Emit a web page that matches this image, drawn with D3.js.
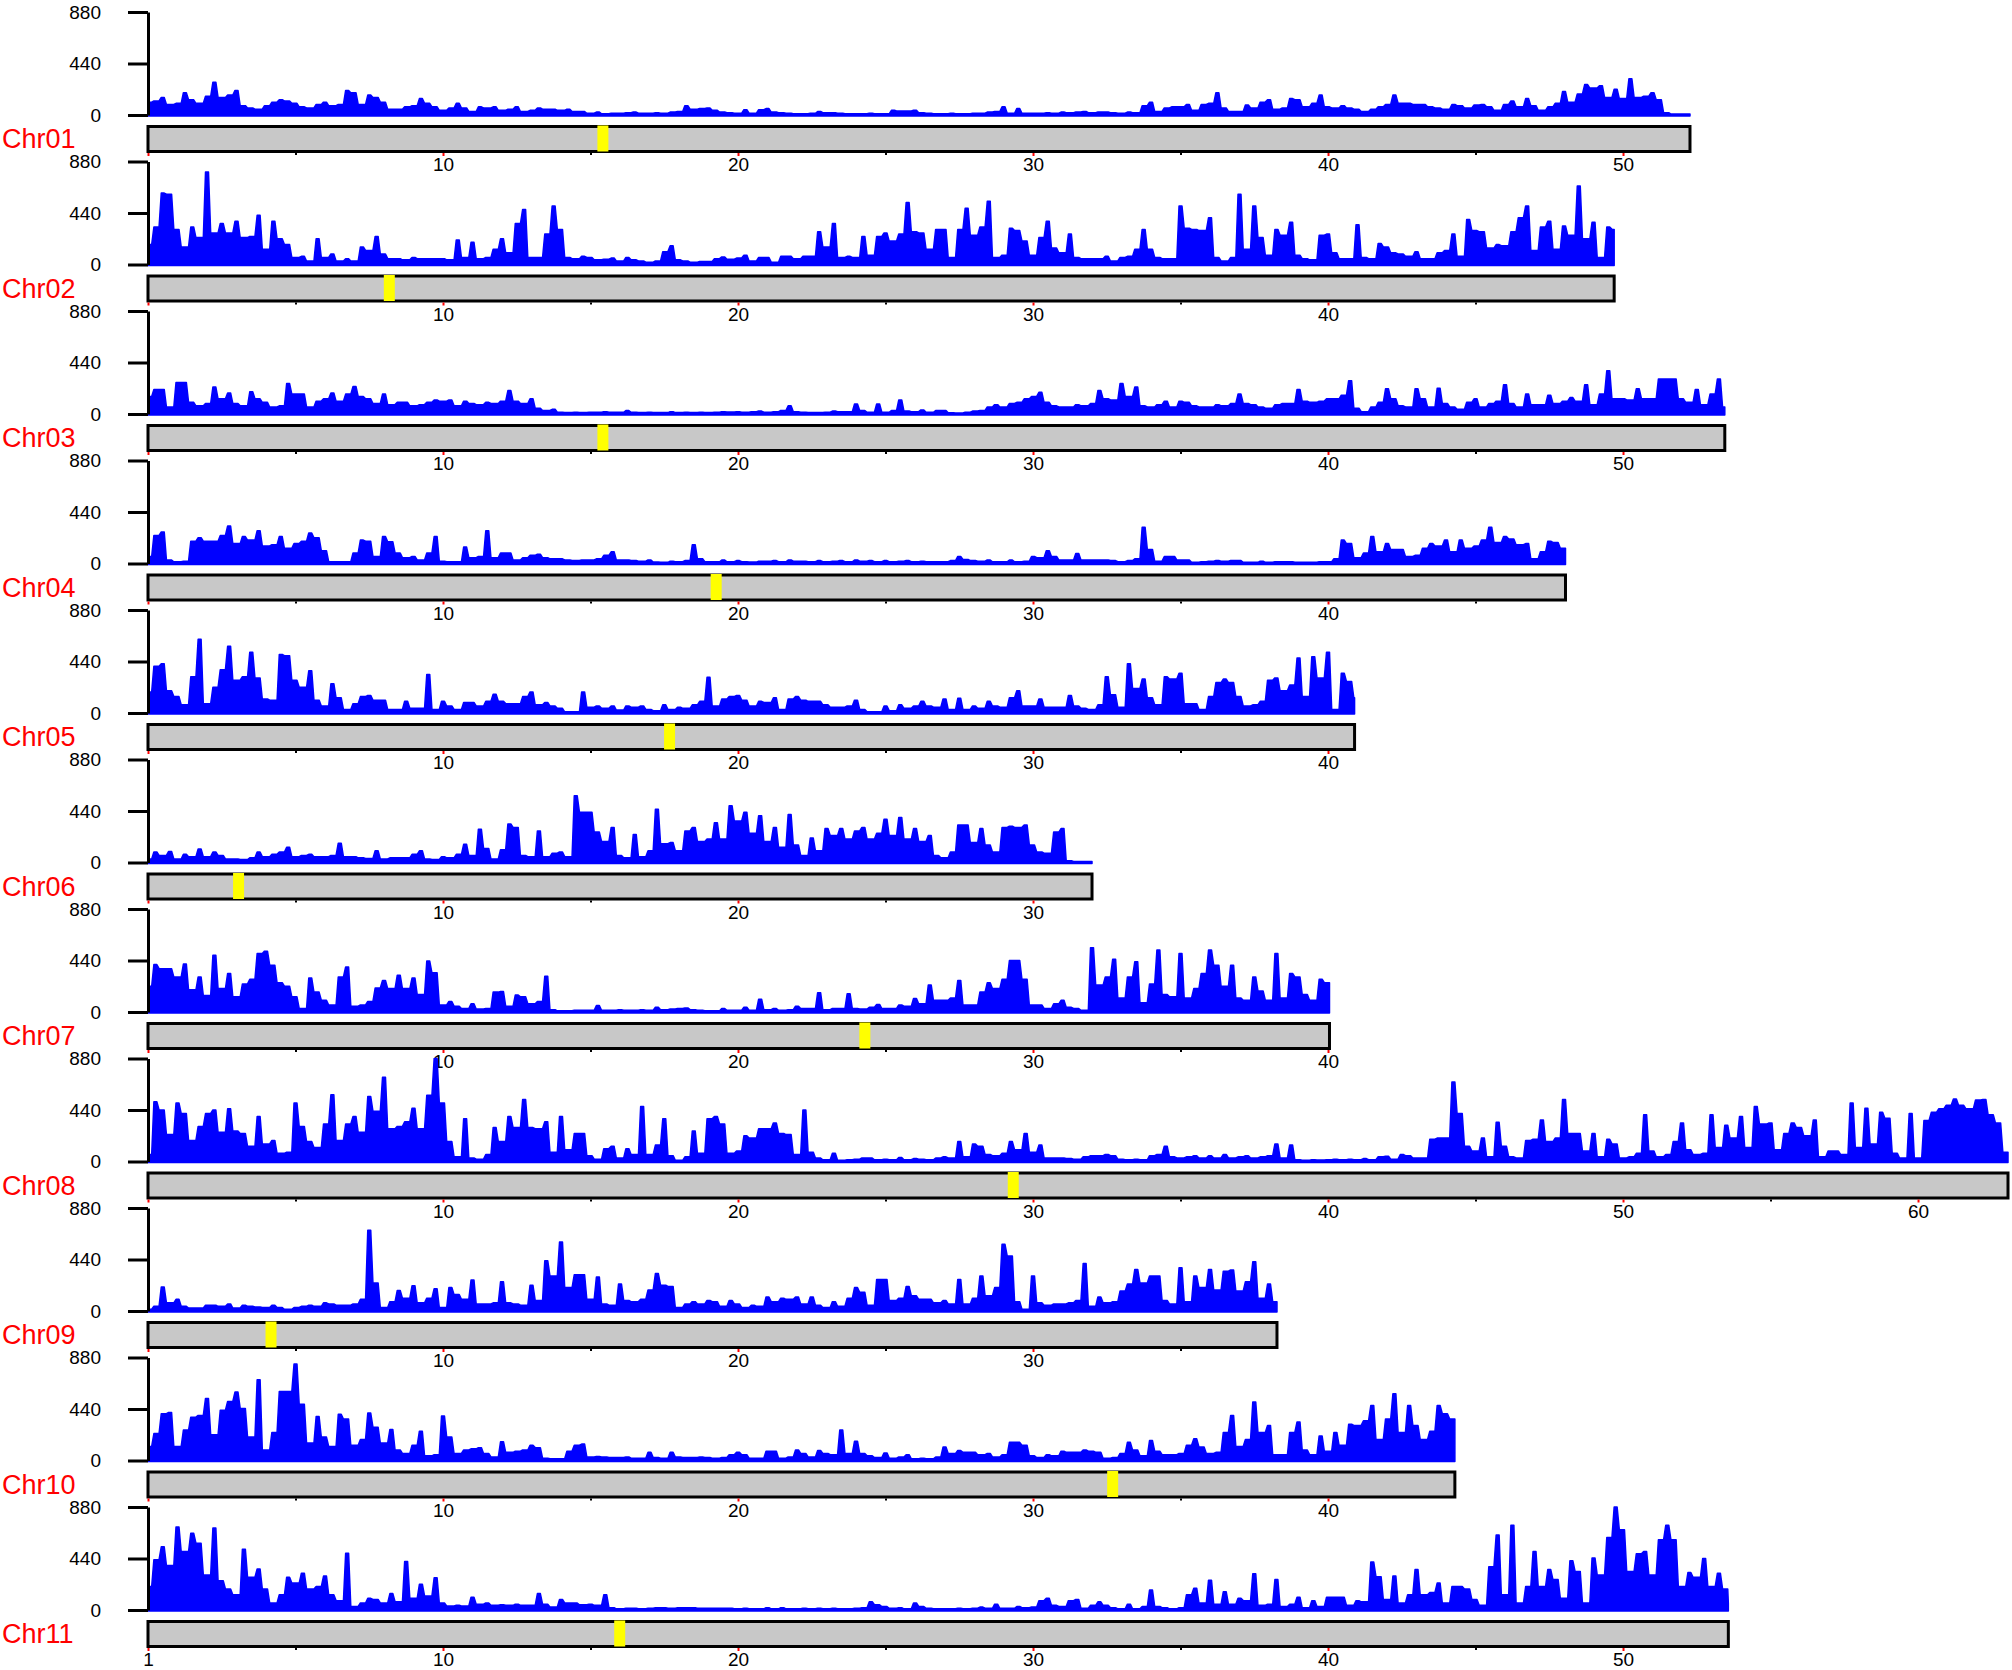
<!DOCTYPE html>
<html>
<head>
<meta charset="utf-8">
<script src="https://cdn.jsdelivr.net/npm/d3@7"></script>
<style>
  body { margin: 0; background: #fff; }
  text { font-family: "Liberation Sans", sans-serif; }
</style>
</head>
<body>
<script>
// Read density per 0.25 Mb bin, one line = 5 Mb
const chr01 = [
  110,120,150,90,100,190,130,100,160,280,150,170,210,80,60,50,80,110,130,120,
  100,70,60,90,110,80,90,210,190,90,170,150,110,50,50,70,80,140,100,70,
  40,60,100,60,30,70,60,70,40,50,70,30,40,60,50,50,40,50,30,30,
  15,25,10,15,15,20,25,15,15,20,15,25,30,80,50,55,60,40,25,20,
  15,45,15,45,55,25,20,15,10,10,15,30,20,20,15,10,10,10,15,10,
  10,40,35,35,40,20,15,10,10,15,10,10,15,15,25,30,70,15,55,15,
  15,15,20,15,25,20,25,30,20,25,25,20,15,25,20,80,110,30,60,70,
  70,90,40,90,100,190,60,30,30,85,60,110,130,50,60,140,130,70,100,170,
  70,60,80,60,50,30,50,70,90,170,100,100,90,90,70,60,50,90,80,60,
  85,90,70,40,90,120,70,140,80,40,70,100,200,110,180,260,230,250,150,220,
  140,310,150,160,190,130,20,8,8,8];
const chr02 = [
  170,320,610,600,300,150,320,230,790,270,350,270,370,230,240,420,130,370,220,170,
  60,70,30,220,60,90,30,50,30,150,120,240,90,50,50,40,60,50,50,50,
  50,40,210,60,190,50,60,130,220,100,350,470,60,60,260,500,300,60,50,70,
  60,40,45,55,30,60,40,30,20,30,110,160,40,30,20,25,25,50,65,45,
  55,80,30,60,60,20,70,70,50,70,70,280,150,350,60,70,60,240,80,240,
  270,200,260,530,280,270,130,300,300,60,300,480,250,320,540,60,80,310,290,200,
  80,230,370,140,100,260,60,50,50,50,70,30,60,70,130,300,130,60,50,50,
  500,310,300,290,400,60,30,60,600,130,500,230,80,300,250,360,80,50,40,250,
  260,100,50,50,340,60,50,180,150,100,90,70,110,50,50,100,120,260,70,385,
  290,280,140,170,160,280,400,500,120,320,370,130,330,250,670,220,360,60,320,300];
const chr03 = [
  150,210,210,60,270,270,100,70,90,230,130,180,90,70,190,130,100,60,70,260,
  170,170,60,110,130,180,110,170,235,150,130,90,170,80,100,100,70,80,100,120,
  110,120,70,110,90,80,100,90,110,200,110,90,130,50,30,40,15,12,15,12,
  15,15,20,15,15,30,15,12,15,12,12,20,12,15,12,15,12,15,20,18,
  20,15,20,25,15,20,30,70,20,15,12,12,15,25,20,20,85,30,15,85,
  15,30,120,25,20,35,15,30,30,10,8,15,25,30,60,80,60,90,100,130,
  150,185,100,70,60,60,80,70,90,200,130,120,260,150,230,70,60,80,110,60,
  110,100,70,60,60,80,70,90,170,90,80,60,50,80,90,90,210,110,100,110,
  130,130,160,285,50,20,60,100,215,130,70,60,215,130,60,220,90,60,40,100,
  130,60,90,110,250,90,60,170,80,80,160,90,110,140,110,250,80,170,370,130,
  130,120,215,130,130,300,300,300,130,100,210,80,170,300,60];
const chr04 = [
  60,240,270,30,15,20,190,220,190,190,240,320,170,230,200,280,150,160,230,130,
  170,190,260,220,110,15,15,15,90,200,190,60,230,185,90,50,60,30,90,230,
  20,15,15,140,50,60,280,50,90,90,30,50,70,80,50,40,40,30,25,30,
  30,40,70,100,30,30,25,20,30,12,10,20,15,25,160,40,15,15,30,15,
  25,15,12,20,20,25,15,30,20,20,15,25,15,20,25,15,30,20,25,15,
  25,15,20,25,15,20,15,15,15,25,60,35,25,20,30,15,15,30,15,20,
  60,50,110,60,30,30,85,30,30,30,30,25,15,25,40,310,120,20,60,60,
  30,30,10,15,20,25,20,25,25,10,10,20,10,15,15,15,10,10,10,15,
  15,40,200,170,50,90,230,100,170,120,120,60,70,130,170,150,200,100,200,130,
  150,200,310,180,230,210,160,170,40,100,190,180,130];
const chr05 = [
  180,400,420,190,140,70,310,630,80,220,370,570,280,310,520,300,120,110,500,490,
  280,220,360,110,60,250,130,30,80,140,150,110,110,30,30,100,40,40,330,30,
  100,60,30,90,90,60,100,160,100,80,80,140,180,70,90,60,40,10,10,180,
  50,60,40,60,25,60,50,60,30,20,70,30,50,40,70,100,305,60,120,140,
  150,110,60,100,90,130,30,120,140,110,100,100,70,50,50,60,110,30,10,10,
  60,20,70,40,60,100,60,50,120,30,125,30,60,40,100,60,50,130,190,60,
  60,120,50,50,50,150,60,40,30,70,310,155,50,420,210,290,130,70,310,290,
  340,80,80,30,140,260,290,260,140,60,70,100,280,300,190,240,470,140,480,300,
  520,30,340,270,130];
const chr06 = [
  30,90,60,95,30,70,50,115,50,90,60,30,30,25,40,90,50,70,90,130,
  50,60,70,50,50,60,165,50,50,40,35,100,30,40,40,40,70,100,30,25,
  50,40,70,155,60,285,120,30,110,330,300,60,50,270,50,80,90,50,570,430,
  430,260,180,300,60,40,240,50,100,455,160,170,100,270,300,180,200,340,200,485,
  355,430,250,400,180,300,130,410,150,60,210,100,290,230,290,200,270,300,200,250,
  370,230,385,200,290,180,230,60,40,90,320,320,170,290,150,90,300,310,300,320,
  150,90,80,260,290,15,8,8,8];
const chr07 = [
  220,405,370,370,300,410,190,300,140,485,200,330,130,240,280,500,520,400,250,220,
  130,30,290,170,100,60,300,385,50,60,90,205,270,200,315,200,290,150,435,335,
  60,90,50,30,70,25,30,170,175,50,145,130,70,90,305,20,10,10,15,15,
  15,55,15,15,20,15,15,20,15,40,20,25,30,35,20,15,10,10,30,15,
  15,40,15,110,20,30,15,20,50,30,30,165,20,30,30,155,30,25,40,65,
  30,30,60,50,115,70,230,100,100,120,270,60,60,170,250,200,280,440,440,280,
  60,60,30,70,100,40,30,15,550,230,300,450,120,300,430,80,240,530,150,130,
  500,120,200,330,530,400,220,400,120,100,300,180,100,500,120,330,300,150,100,280,
  250];
const chr08 = [
  60,510,440,230,500,410,180,300,410,440,250,450,260,240,130,385,150,180,70,80,
  500,300,170,120,320,570,180,320,385,250,555,430,720,280,300,340,455,280,565,880,
  500,170,40,365,30,20,60,290,170,385,290,530,290,280,340,80,385,100,240,240,
  50,20,110,130,30,110,60,470,60,140,365,50,10,40,260,70,365,385,320,70,
  90,220,200,280,280,330,240,230,60,440,80,30,15,70,10,15,20,30,30,15,
  20,15,35,15,25,20,15,30,40,30,170,40,150,130,60,50,70,170,100,240,
  80,140,30,30,30,25,20,40,50,50,60,50,20,15,20,15,50,60,130,40,
  30,40,50,30,50,30,60,30,40,50,30,40,50,150,30,140,15,10,15,12,
  15,20,15,20,15,25,15,40,45,20,60,50,30,30,190,200,200,680,410,130,
  90,200,40,335,130,40,30,180,190,355,170,200,530,240,240,90,240,40,190,150,
  30,40,70,400,90,40,60,170,330,100,60,70,400,120,310,200,385,120,470,320,
  330,100,240,330,290,220,355,40,90,90,60,500,120,455,150,420,370,70,30,410,
  30,350,420,450,480,535,480,450,525,530,400,330,80];
const chr09 = [
  15,40,205,70,100,40,25,25,50,50,40,60,25,50,40,35,30,50,30,15,
  30,40,50,40,70,60,50,50,60,100,690,240,30,80,175,110,215,70,110,190,
  30,200,140,100,265,60,60,70,250,70,60,50,220,90,430,300,590,200,310,310,
  100,290,60,50,230,90,80,100,180,320,220,210,30,60,80,60,90,80,40,90,
  60,30,50,40,120,80,110,100,120,60,120,50,30,80,40,110,200,160,50,270,
  270,90,110,210,130,100,100,70,90,60,270,60,110,300,130,200,570,470,80,15,
  300,70,50,60,60,70,90,405,40,120,70,80,170,230,355,240,300,300,90,60,
  370,80,300,200,355,180,340,350,170,250,420,110,230,80];
const chr10 = [
  120,230,400,410,120,260,370,385,530,220,430,505,585,445,200,690,90,240,590,590,
  825,480,150,375,200,120,395,355,130,180,405,285,150,265,90,60,130,250,40,50,
  380,200,60,90,100,110,60,30,160,70,80,90,130,110,20,15,15,80,130,140,
  30,35,30,25,25,30,20,20,70,25,20,70,30,25,25,30,25,20,25,50,
  70,50,20,20,80,80,20,30,90,60,30,85,60,50,260,60,165,60,40,25,
  65,20,30,50,15,20,15,30,115,60,85,70,70,50,60,30,50,155,155,130,
  40,25,50,40,80,70,70,90,80,70,20,25,60,155,90,40,170,80,50,50,
  60,130,185,115,60,70,240,385,120,180,500,240,300,50,50,240,330,90,50,210,
  80,240,130,310,300,340,470,180,355,570,240,470,300,180,250,470,400,355];
const chr11 = [
  200,430,540,380,710,500,655,570,300,700,250,180,130,520,280,350,180,60,130,280,
  230,315,180,200,290,130,80,485,30,60,100,90,60,140,70,415,100,220,120,275,
  60,35,40,35,110,50,60,40,45,40,50,40,40,140,50,25,90,60,60,45,
  50,40,130,20,10,15,15,10,15,20,20,15,20,20,20,15,15,15,15,15,
  10,15,10,10,20,10,20,10,10,15,10,15,10,15,10,10,15,20,70,45,
  30,15,20,10,60,30,15,10,10,10,15,10,15,25,15,50,15,15,30,20,
  25,80,100,40,30,80,90,15,40,70,40,20,10,50,10,30,170,30,20,10,
  20,130,185,60,255,50,155,50,100,80,310,40,50,260,30,50,110,20,80,30,
  110,110,110,40,80,70,410,285,90,290,60,130,345,130,150,230,60,200,200,180,
  90,40,370,640,130,725,60,200,500,200,345,260,100,420,330,60,445,300,620,880,
  685,330,480,500,300,600,725,600,200,320,280,440,200,315,180,60];

const chromosomes = [chr01, chr02, chr03, chr04, chr05, chr06, chr07, chr08, chr09, chr10, chr11];
const names = ["Chr01","Chr02","Chr03","Chr04","Chr05","Chr06","Chr07","Chr08","Chr09","Chr10","Chr11"];
const lengths = [52.27, 49.7, 53.45, 48.05, 40.9, 32, 40.05, 63.05, 38.27, 44.3, 53.57]; // Mb
const centromeres = [15.42, 8.18, 15.42, 19.26, 17.68, 3.07, 24.3, 29.33, 4.17, 32.7, 15.99];
const yTicks = [0, 440, 880];
const binSize = 0.25;
const topHalf = 0.05; // half width of a bin's flat top, Mb

const width = 2012;
const height = 1670;
const trackStep = 149.5;

const svg = d3.select("body").append("svg")
  .attr("width", width)
  .attr("height", height)
  .style("display", "block");

const x = d3.scaleLinear().domain([0, 63.05]).range([148, 2008]);
const y = d3.scaleLinear().domain([0, 880]).range([115, 12]);

chromosomes.forEach((values, i) => {
  const len = lengths[i];
  const g = svg.append("g").attr("transform", `translate(0,${i * trackStep})`);

  // each bin is a narrow top, between two bins the outline drops to the lower one
  const profile = values.flatMap((v, k) => {
    const pts = [[k * binSize - topHalf, v], [k * binSize + topHalf, v]];
    if (k < values.length - 1) pts.push([(k + 0.5) * binSize, Math.min(v, values[k + 1])]);
    return pts;
  });

  const area = d3.area()
    .x(d => x(Math.max(0, Math.min(d[0], len))))
    .y0(y(0) + 1)
    .y1(d => y(d[1]));

  g.append("path")
    .datum(profile)
    .attr("d", area)
    .attr("fill", "#0000ff")
    .attr("stroke", "#0000ff")
    .attr("stroke-width", 1.5)
    .attr("stroke-linejoin", "round");

  // y axis, 880 at the top
  const yAxis = g.append("g")
    .attr("transform", "translate(148,0)")
    .call(d3.axisLeft(y).tickValues(yTicks).tickSize(20).tickSizeOuter(0).tickPadding(27));
  yAxis.selectAll("path, line").attr("stroke", "#000").attr("stroke-width", 3);
  yAxis.selectAll("text").style("font-size", "19px").attr("fill", "#000");

  // grey bar with the yellow centromere
  g.append("rect")
    .attr("x", x(0))
    .attr("y", 126.5)
    .attr("width", x(len) - x(0))
    .attr("height", 25)
    .attr("fill", "#c8c8c8")
    .attr("stroke", "#000")
    .attr("stroke-width", 3);

  g.append("rect")
    .attr("x", x(centromeres[i]) - 5.5)
    .attr("y", 125.5)
    .attr("width", 11)
    .attr("height", 26)
    .attr("fill", "#ffff00");

  // small black ticks every 5, red ones with labels every 10
  const minor = d3.range(5, len, 10);
  const major = d3.range(0, len, 10);

  const minorAxis = g.append("g")
    .attr("transform", "translate(0,153)")
    .call(d3.axisBottom(x).tickValues(minor).tickSize(2).tickFormat(""));
  minorAxis.select(".domain").remove();
  minorAxis.selectAll("line").attr("stroke", "#000").attr("stroke-width", 2);

  const majorAxis = g.append("g")
    .attr("transform", "translate(0,153)")
    .call(d3.axisBottom(x).tickValues(major).tickSize(3).tickPadding(2)
      .tickFormat(d => d === 0 ? (i === chromosomes.length - 1 ? "1" : "") : d));
  majorAxis.select(".domain").remove();
  majorAxis.selectAll("line").attr("stroke", "#ff0000").attr("stroke-width", 2);
  majorAxis.selectAll("text").style("font-size", "19px").attr("fill", "#000");

  g.append("text")
    .attr("x", 2)
    .attr("y", 148)
    .attr("fill", "#ff0000")
    .style("font-size", "27px")
    .text(names[i]);
});
</script>
</body>
</html>
